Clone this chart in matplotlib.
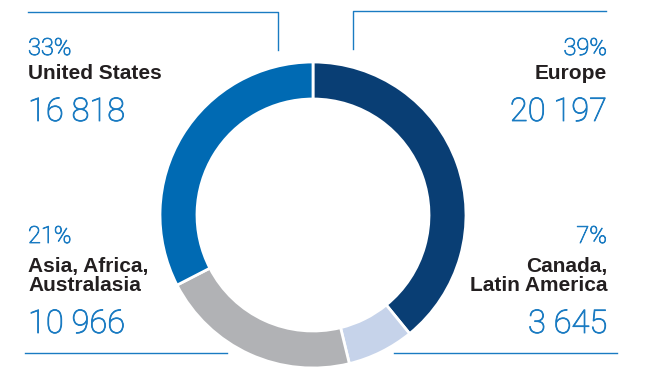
import matplotlib
matplotlib.use('Agg')
import matplotlib.pyplot as plt
import matplotlib.patheffects as pe

# Sales by region
regions = ['Europe', 'Canada,\nLatin America', 'Asia, Africa,\nAustralasia', 'United States']
values = [20197, 3645, 10966, 16818]
shares = ['39%', '7%', '21%', '33%']
value_labels = ['20 197', '3 645', '10 966', '16 818']
colors = ['#093e74', '#c6d3ea', '#b1b2b5', '#006ab3']

BLUE = '#1a7bc2'
DARK = '#231f20'
W, H = 649, 383

fig = plt.figure(figsize=(W / 100, H / 100), dpi=100)
ax = fig.add_axes([0, 0, 1, 1])

# donut, clockwise from 12 o'clock
ax.pie(values, colors=colors, startangle=90, counterclock=False,
       radius=153, center=(313, H - 215),
       wedgeprops=dict(width=37, edgecolor='white', linewidth=2))
ax.set_xlim(0, W)
ax.set_ylim(0, H)
ax.set_aspect('equal')
ax.axis('off')

# light text a touch heavier than Roboto Light
thick = [pe.withStroke(linewidth=0.6, foreground=BLUE)]
light = dict(family='Roboto', weight='light', color=BLUE, path_effects=thick)
bold = dict(family='Liberation Sans', weight='bold', color=DARK)

def block(x, y_pct, y_name, y_val, i, ha):
    ax.text(x, H - y_pct, shares[i], fontsize=17, ha=ha, va='baseline', **light)
    ax.text(x, H - y_name, regions[i], fontsize=15, ha=ha, va='baseline',
            linespacing=0.98, **bold)
    ax.text(x, H - y_val, value_labels[i], fontsize=23.5, ha=ha, va='baseline', **light)

block(607, 55, 79, 121, 0, 'right')
block(607, 243, 291, 333, 1, 'right')
block(28, 243, 291, 333, 2, 'left')
block(28, 55, 79, 121, 3, 'left')

# connector lines
lc = dict(color=BLUE, lw=1)
ax.plot([28, 278, 278], [H - 12, H - 12, H - 50], **lc)
ax.plot([353, 353, 606], [H - 49, H - 11, H - 11], **lc)
ax.plot([25, 227], [H - 353, H - 353], **lc)
ax.plot([394, 617], [H - 353, H - 353], **lc)

fig.savefig('out.png', dpi=100)
